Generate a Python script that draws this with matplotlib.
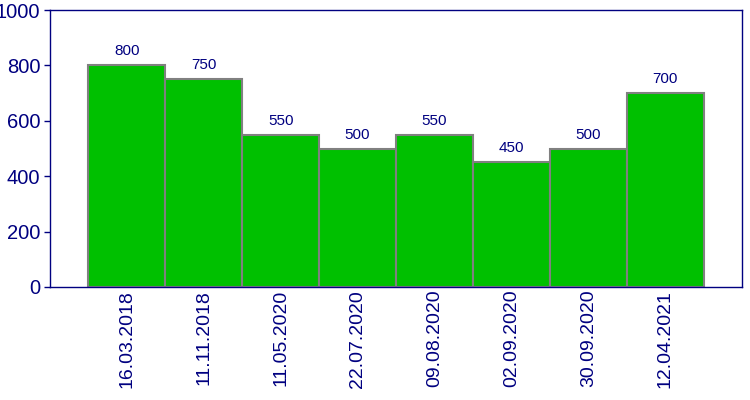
import matplotlib
matplotlib.use("Agg")
import matplotlib.pyplot as plt
import numpy as np

dates = ["16.03.2018", "11.11.2018", "11.05.2020", "22.07.2020",
         "09.08.2020", "02.09.2020", "30.09.2020", "12.04.2021"]
values = [800, 750, 550, 500, 550, 450, 500, 700]
labels = ["800", "750", "550", "500", "550", "450", "500", "700"]

navy = "#000080"
plt.rcParams["font.family"] = ["Liberation Sans", "DejaVu Sans"]

fig = plt.figure(figsize=(7.5, 4), dpi=100)
ax = fig.add_axes([50/750, 113/400, 692/750, 277/400])

x = np.arange(1, len(values) + 1)
ax.bar(x, values, width=1.0, color="#00c000", edgecolor="#808080", linewidth=1.5)

for xi, v, lab in zip(x, values, labels):
    ax.annotate(lab, (xi, v), xytext=(0, 5), textcoords="offset points",
                ha="center", va="bottom", color=navy, fontsize=11)

ax.set_xlim(0, 9)
ax.set_ylim(0, 1000)
ax.set_yticks(range(0, 1001, 200))
ax.set_xticks(x)
ax.set_xticklabels(dates, rotation=90, color=navy, fontsize=14)
ax.tick_params(axis="x", length=0, pad=2)
ax.tick_params(axis="y", length=4, width=1, color=navy, labelcolor=navy,
               labelsize=14.5, pad=3)
for s in ax.spines.values():
    s.set_color(navy)
    s.set_linewidth(1)

fig.savefig("out.png", dpi=100)
